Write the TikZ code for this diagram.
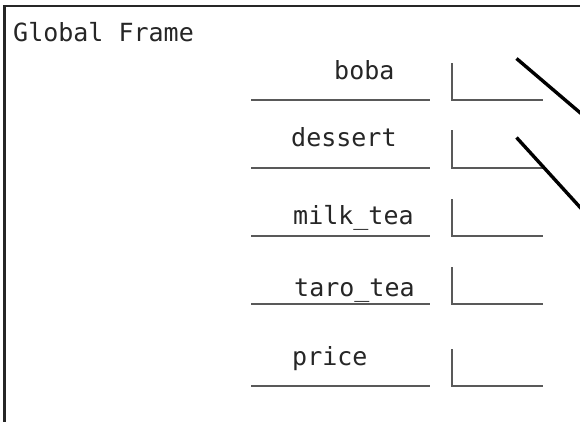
\documentclass[tikz,border=0pt]{standalone}
\usepackage{fontspec}
\newfontfamily\monofont{DejaVu Sans Mono}
\begin{document}
\begin{tikzpicture}[x=1pt,y=-1pt,
  lbl/.style={anchor=base west,inner sep=0pt,font=\monofont\fontsize{25}{30}\selectfont,text=black!85},
  slot/.style={draw=black!65,line width=2.2pt},
  frameline/.style={draw=black!85,line width=2.6pt},
  ptr/.style={draw=black,line width=3.4pt}]
\useasboundingbox (0,0) rectangle (580,421);
\clip (0,0) rectangle (580,421);
\fill[white] (0,0) rectangle (580,421);
% frame
\coordinate (fbl) at (4.5,440);
\coordinate (ftl) at (4.5,6);
\coordinate (ftr) at (600,6);
\draw[frameline] (fbl) -- (ftl) -- (ftr);
\node[lbl] (title) at (13,41.5) {Global Frame};
% rows: name, underline y, box top
\foreach \nm/\uy/\bt in {boba/100/63, dessert/168/130, milktea/236/199, tarotea/304/267, price/386/349}{
  \coordinate (\nm-ul) at (251,\uy);
  \coordinate (\nm-ur) at (430,\uy);
  \coordinate (\nm-vt) at (452,\bt);
  \coordinate (\nm-vb) at (452,\uy);
  \coordinate (\nm-vr) at (543,\uy);
  \draw[slot] (\nm-ul) -- (\nm-ur);
  \draw[slot] (\nm-vt) -- (\nm-vb) -- (\nm-vr);
}
\node[lbl] (boba) at (334,79.5) {boba};
\node[lbl] (dessert) at (291,146.5) {dessert};
\node[lbl] (milktea) at (293,224.5) {milk\_tea};
\node[lbl] (tarotea) at (294,296) {taro\_tea};
\node[lbl] (price) at (292,365.5) {price};
% pointers
\coordinate (p1s) at (516.5,58.5);
\coordinate (p1e) at (598,128);
\coordinate (p2s) at (516.5,137.5);
\coordinate (p2e) at (598,227);
\draw[ptr] (p1s) -- (p1e);
\draw[ptr] (p2s) -- (p2e);
\end{tikzpicture}
\end{document}
